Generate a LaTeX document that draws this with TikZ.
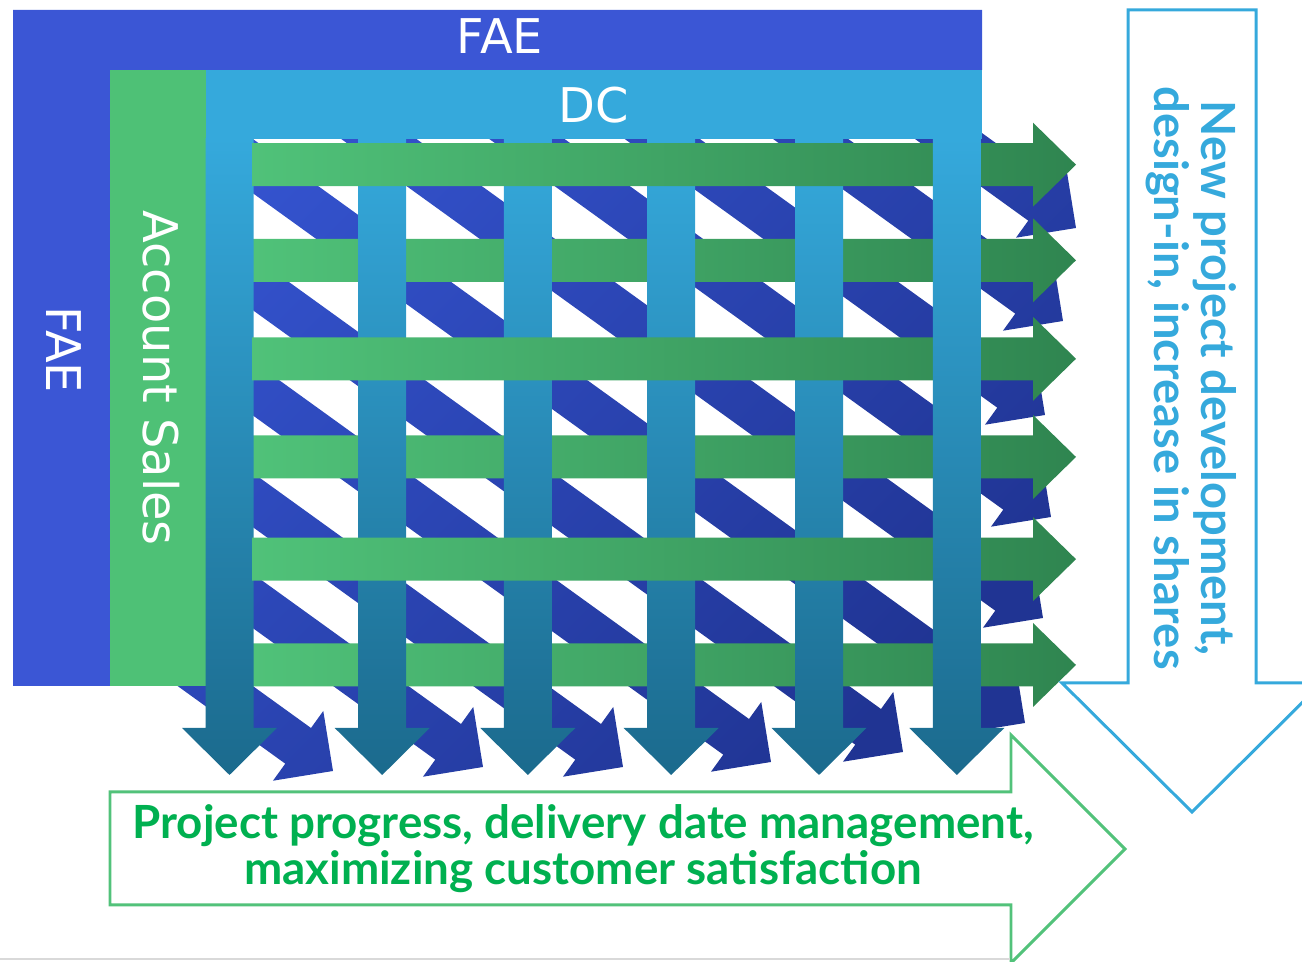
\documentclass[tikz,border=0pt]{standalone}
\usepackage{fontspec}
\setmainfont{DejaVu Sans}
\newfontfamily\claimfont{Lato}
\usepackage{tikz}
\definecolor{fae blue}{HTML}{3B56D5}
\definecolor{sales green}{HTML}{4EC176}
\definecolor{dc blue}{HTML}{35A9DC}
\definecolor{dc dark}{HTML}{1B6A8D}
\definecolor{row light}{HTML}{50C279}
\definecolor{row dark}{HTML}{2F8550}
\definecolor{diag light}{HTML}{3656D4}
\definecolor{diag dark}{HTML}{203493}
\definecolor{claim green}{HTML}{00B050}
\definecolor{outline green}{HTML}{52C27A}

\tikzset{
	label text/.style={text=white, inner sep=0pt, font=\fontsize{13.6}{16}\selectfont},
	claim text/.style={inner sep=0pt, align=center},
	column arrow/.style={top color=dc blue, bottom color=dc dark},
	row arrow/.style={left color=row light, right color=row dark},
	outline/.style={line width=0.85pt, fill=none}
}

\begin{document}
\begin{tikzpicture}[x=0.01cm, y=-0.01cm]
		\useasboundingbox (0,0) rectangle (1302,962);
		% part for the diagonal arrows, mostly hidden under the boxes
		\shade[top color=diag light, bottom color=diag dark, shading angle=45]
			\foreach \tx/\ty/\l in {1076/228/278, 1063/321/437, 1045/415/598, 1051/517/772,
				1043/618/945, 1025/723/1125, 903/752/1021, 771/762/858, 623/767/676,
				483/767/503, 333/771/318} {
				(\tx,\ty) -- ++(170.8:60.8) -- ++(305.8:21) -- ++(215.8:\l)
				-- ++(305.8:44) -- ++(35.8:\l) -- ++(305.8:21) -- cycle
			};
		% part for FAE
		\fill[fae blue] (13,10) -- (982,10) -- (982,70) -- (110,70) -- (110,686) -- (13,686) -- cycle;
		\node[label text] (fae top) at (500,36) {FAE};
		\node[label text, rotate=-90] (fae side) at (64,350) {FAE};
		% part for Account Sales
		\fill[sales green] (110,70) rectangle (207,686);
		\node[label text, rotate=-90] (sales) at (161,378) {Account Sales};
		% rows that pass under the columns
		\foreach \y in {260.3, 457, 665}
			\shade[row arrow] (252,\y-21.5) -- (1033,\y-21.5) -- (1033,\y-42) -- (1076,\y)
				-- (1033,\y+42) -- (1033,\y+21.5) -- (252,\y+21.5) -- cycle;
		% columns
		\foreach \x in {229.5, 382.2, 527.8, 671.2, 819}
			\shade[column arrow] (\x-24,138) -- (\x+24,138) -- (\x+24,728) -- (\x+47.5,728)
				-- (\x,775) -- (\x-47.5,728) -- (\x-24,728) -- cycle;
		% rows that pass over the columns
		\foreach \y in {164.7, 358.8, 559.2}
			\shade[row arrow] (252,\y-21.5) -- (1033,\y-21.5) -- (1033,\y-42) -- (1076,\y)
				-- (1033,\y+42) -- (1033,\y+21.5) -- (252,\y+21.5) -- cycle;
		% last column lies over every row
		\shade[column arrow] (932.8,138) -- (980.8,138) -- (980.8,728) -- (1004.3,728)
			-- (956.8,775) -- (909.3,728) -- (932.8,728) -- cycle;
		% part for DC
		\fill[dc blue] (205.5,70) rectangle (982,139);
		\node[label text] (dc) at (594,105) {DC};
		% outline arrows
		\draw[outline, dc blue] (1128,10) -- (1256,10) -- (1256,683) -- (1322,683)
			-- (1192,812) -- (1062,683) -- (1128,683) -- cycle;
		\draw[outline, outline green] (110,792) -- (1011,792) -- (1011,735) -- (1125,849)
			-- (1011,963) -- (1011,905) -- (110,905) -- cycle;
		\node[claim text, text=dc blue, rotate=-90,
			font=\claimfont\bfseries\fontsize{13.4}{13.4}\selectfont] (shares) at (1191,378)
			{New project development,\\design-in, increase in shares};
		\node[claim text, text=claim green,
			font=\claimfont\bfseries\fontsize{13}{12}\selectfont] (progress) at (583,849)
			{Project progress, delivery date management,\\maximizing customer satisfaction};
		\draw[black!15, line width=0.6pt] (0,959) -- (1010,959);
	\end{tikzpicture}
\end{document}
